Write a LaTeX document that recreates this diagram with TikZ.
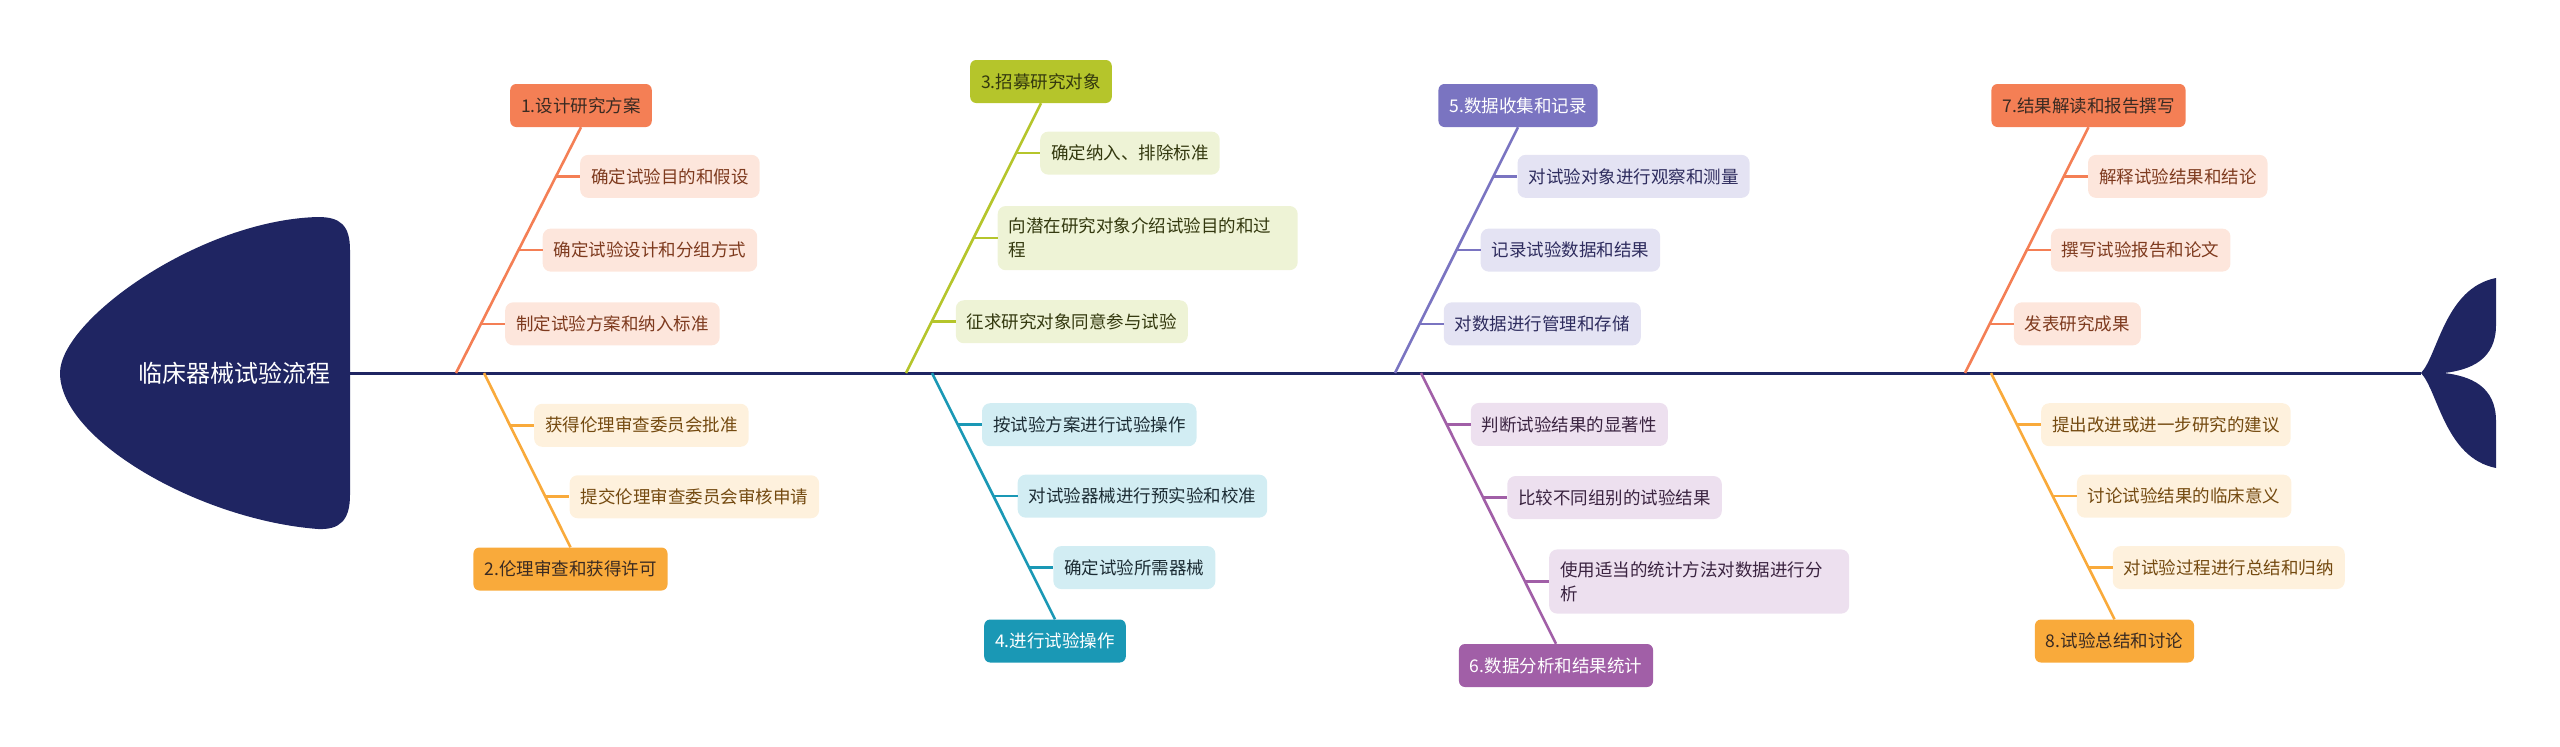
\documentclass[tikz,border=0pt]{standalone}
\usepackage{fontspec}
\usepackage{tikz}
\usetikzlibrary{positioning,calc}
\newfontfamily\cjk{Noto Sans CJK SC}
\definecolor{navy}{HTML}{1F2562}
\definecolor{coral}{HTML}{F47F55}
\definecolor{coralbg}{HTML}{FDE6DC}
\definecolor{coraltx}{HTML}{7E3A1E}
\definecolor{amber}{HTML}{F9AA3B}
\definecolor{amberbg}{HTML}{FEF1DD}
\definecolor{ambertx}{HTML}{744A10}
\definecolor{lime}{HTML}{B5C52B}
\definecolor{limebg}{HTML}{EEF3D6}
\definecolor{limetx}{HTML}{33380E}
\definecolor{teal}{HTML}{1A98B5}
\definecolor{tealbg}{HTML}{D2EDF3}
\definecolor{tealtx}{HTML}{1C2C34}
\definecolor{indigo}{HTML}{7A74C1}
\definecolor{indigobg}{HTML}{E4E3F3}
\definecolor{indigotx}{HTML}{2E2C5E}
\definecolor{plum}{HTML}{A15FA7}
\definecolor{plumbg}{HTML}{EDE0EF}
\definecolor{plumtx}{HTML}{3A2340}
\definecolor{darktx}{HTML}{3A2A22}

\begin{document}
\begin{tikzpicture}[
    x=1pt, y=-1pt,
    topic/.style={rectangle, rounded corners=6pt, minimum height=43pt, inner xsep=11pt, font=\cjk\fontsize{17.5}{24}\selectfont},
    leaf/.style={rectangle, rounded corners=8pt, minimum height=43pt, inner xsep=11pt, inner ysep=12pt, align=left, font=\cjk\fontsize{17.5}{24}\selectfont},
    bone/.style={line width=2.6pt},
    t1/.style={topic, fill=coral, text=darktx},
    t2/.style={topic, fill=amber, text=darktx},
    t3/.style={topic, fill=lime, text=limetx},
    t4/.style={topic, fill=teal, text=white},
    t5/.style={topic, fill=indigo, text=white},
    t6/.style={topic, fill=plum, text=white},
    l1/.style={leaf, fill=coralbg, text=coraltx},
    l2/.style={leaf, fill=amberbg, text=ambertx},
    l3/.style={leaf, fill=limebg, text=limetx},
    l4/.style={leaf, fill=tealbg, text=tealtx},
    l5/.style={leaf, fill=indigobg, text=indigotx},
    l6/.style={leaf, fill=plumbg, text=plumtx}
]
\useasboundingbox (0,0) rectangle (2560,747);

\fill[navy] (350,250) .. controls (350,225) and (340,217) .. (318,217)
  .. controls (200,220) and (60,320) .. (60,373)
  .. controls (60,440) and (200,520) .. (318,529)
  .. controls (340,530) and (350,520) .. (350,495) -- cycle;
\node[font=\cjk\fontsize{24}{28}\selectfont, text=white] (head) at (234,373) {临床器械试验流程};

\coordinate (neck) at (350,373);
\coordinate (tailtip) at (2421,373);
\draw[navy, line width=3pt] (neck) -- (tailtip);
\fill[navy] (tailtip) .. controls (2438,355) and (2445,288) .. (2496,278) -- (2496,325)
  .. controls (2496,360) and (2470,370) .. (2444,373)
  .. controls (2470,376) and (2496,386) .. (2496,421) -- (2496,468)
  .. controls (2445,458) and (2438,391) .. (tailtip) -- cycle;

\coordinate (b1) at (456,373);
\coordinate (b2) at (484,373);
\coordinate (b3) at (906,373);
\coordinate (b4) at (932,373);
\coordinate (b5) at (1395,373);
\coordinate (b6) at (1421,373);
\coordinate (b7) at (1965,373);
\coordinate (b8) at (1991,373);

\node[t1] (m1) at (581,105.5) {1.设计研究方案};
\node[t2] (m2) at (570.5,569) {2.伦理审查和获得许可};
\node[t3] (m3) at (1041,81.5) {3.招募研究对象};
\node[t4] (m4) at (1055,641) {4.进行试验操作};
\node[t5] (m5) at (1518,105.5) {5.数据收集和记录};
\node[t6] (m6) at (1556,665.5) {6.数据分析和结果统计};
\node[t1] (m7) at (2088.5,105.5) {7.结果解读和报告撰写};
\node[t2] (m8) at (2114.5,641) {8.试验总结和讨论};

\draw[bone, coral] (b1) -- (m1.south);
\draw[bone, amber] (b2) -- (m2.north);
\draw[bone, lime] (b3) -- (m3.south);
\draw[bone, teal] (b4) -- (m4.north);
\draw[bone, indigo] (b5) -- (m5.south);
\draw[bone, plum] (b6) -- (m6.north);
\draw[bone, coral] (b7) -- (m7.south);
\draw[bone, amber] (b8) -- (m8.north);

\coordinate (k11) at ($(b1)!0.8!(m1.south)$);
\coordinate (k12) at ($(b1)!0.5!(m1.south)$);
\coordinate (k13) at ($(b1)!0.2!(m1.south)$);
\node[l1, right=24pt of k11] (c11) {确定试验目的和假设};
\node[l1, right=24pt of k12] (c12) {确定试验设计和分组方式};
\node[l1, right=24pt of k13] (c13) {制定试验方案和纳入标准};
\draw[bone, coral] (k11) -- (c11);
\draw[bone, coral] (k12) -- (c12);
\draw[bone, coral] (k13) -- (c13);

\coordinate (k21) at ($(b2)!0.3!(m2.north)$);
\coordinate (k22) at ($(b2)!0.71!(m2.north)$);
\node[l2, right=24pt of k21] (c21) {获得伦理审查委员会批准};
\node[l2, right=24pt of k22] (c22) {提交伦理审查委员会审核申请};
\draw[bone, amber] (k21) -- (c21);
\draw[bone, amber] (k22) -- (c22);

\coordinate (k31) at ($(b3)!0.815!(m3.south)$);
\coordinate (k32) at ($(b3)!0.5!(m3.south)$);
\coordinate (k33) at ($(b3)!0.19!(m3.south)$);
\node[l3, right=24pt of k31] (c31) {确定纳入、排除标准};
\node[l3, right=24pt of k32, text width=278pt] (c32) {向潜在研究对象介绍试验目的和过\\程};
\node[l3, right=24pt of k33] (c33) {征求研究对象同意参与试验};
\draw[bone, lime] (k31) -- (c31);
\draw[bone, lime] (k32) -- (c32);
\draw[bone, lime] (k33) -- (c33);

\coordinate (k41) at ($(b4)!0.21!(m4.north)$);
\coordinate (k42) at ($(b4)!0.5!(m4.north)$);
\coordinate (k43) at ($(b4)!0.79!(m4.north)$);
\node[l4, right=24pt of k41] (c41) {按试验方案进行试验操作};
\node[l4, right=24pt of k42] (c42) {对试验器械进行预实验和校准};
\node[l4, right=24pt of k43] (c43) {确定试验所需器械};
\draw[bone, teal] (k41) -- (c41);
\draw[bone, teal] (k42) -- (c42);
\draw[bone, teal] (k43) -- (c43);

\coordinate (k51) at ($(b5)!0.8!(m5.south)$);
\coordinate (k52) at ($(b5)!0.5!(m5.south)$);
\coordinate (k53) at ($(b5)!0.2!(m5.south)$);
\node[l5, right=24pt of k51] (c51) {对试验对象进行观察和测量};
\node[l5, right=24pt of k52] (c52) {记录试验数据和结果};
\node[l5, right=24pt of k53] (c53) {对数据进行管理和存储};
\draw[bone, indigo] (k51) -- (c51);
\draw[bone, indigo] (k52) -- (c52);
\draw[bone, indigo] (k53) -- (c53);

\coordinate (k61) at ($(b6)!0.19!(m6.north)$);
\coordinate (k62) at ($(b6)!0.46!(m6.north)$);
\coordinate (k63) at ($(b6)!0.77!(m6.north)$);
\node[l6, right=24pt of k61] (c61) {判断试验结果的显著性};
\node[l6, right=24pt of k62] (c62) {比较不同组别的试验结果};
\node[l6, right=24pt of k63, text width=278pt] (c63) {使用适当的统计方法对数据进行分\\析};
\draw[bone, plum] (k61) -- (c61);
\draw[bone, plum] (k62) -- (c62);
\draw[bone, plum] (k63) -- (c63);

\coordinate (k71) at ($(b7)!0.8!(m7.south)$);
\coordinate (k72) at ($(b7)!0.5!(m7.south)$);
\coordinate (k73) at ($(b7)!0.2!(m7.south)$);
\node[l1, right=24pt of k71] (c71) {解释试验结果和结论};
\node[l1, right=24pt of k72] (c72) {撰写试验报告和论文};
\node[l1, right=24pt of k73] (c73) {发表研究成果};
\draw[bone, coral] (k71) -- (c71);
\draw[bone, coral] (k72) -- (c72);
\draw[bone, coral] (k73) -- (c73);

\coordinate (k81) at ($(b8)!0.21!(m8.north)$);
\coordinate (k82) at ($(b8)!0.5!(m8.north)$);
\coordinate (k83) at ($(b8)!0.79!(m8.north)$);
\node[l2, right=24pt of k81] (c81) {提出改进或进一步研究的建议};
\node[l2, right=24pt of k82] (c82) {讨论试验结果的临床意义};
\node[l2, right=24pt of k83] (c83) {对试验过程进行总结和归纳};
\draw[bone, amber] (k81) -- (c81);
\draw[bone, amber] (k82) -- (c82);
\draw[bone, amber] (k83) -- (c83);
\end{tikzpicture}
\end{document}
